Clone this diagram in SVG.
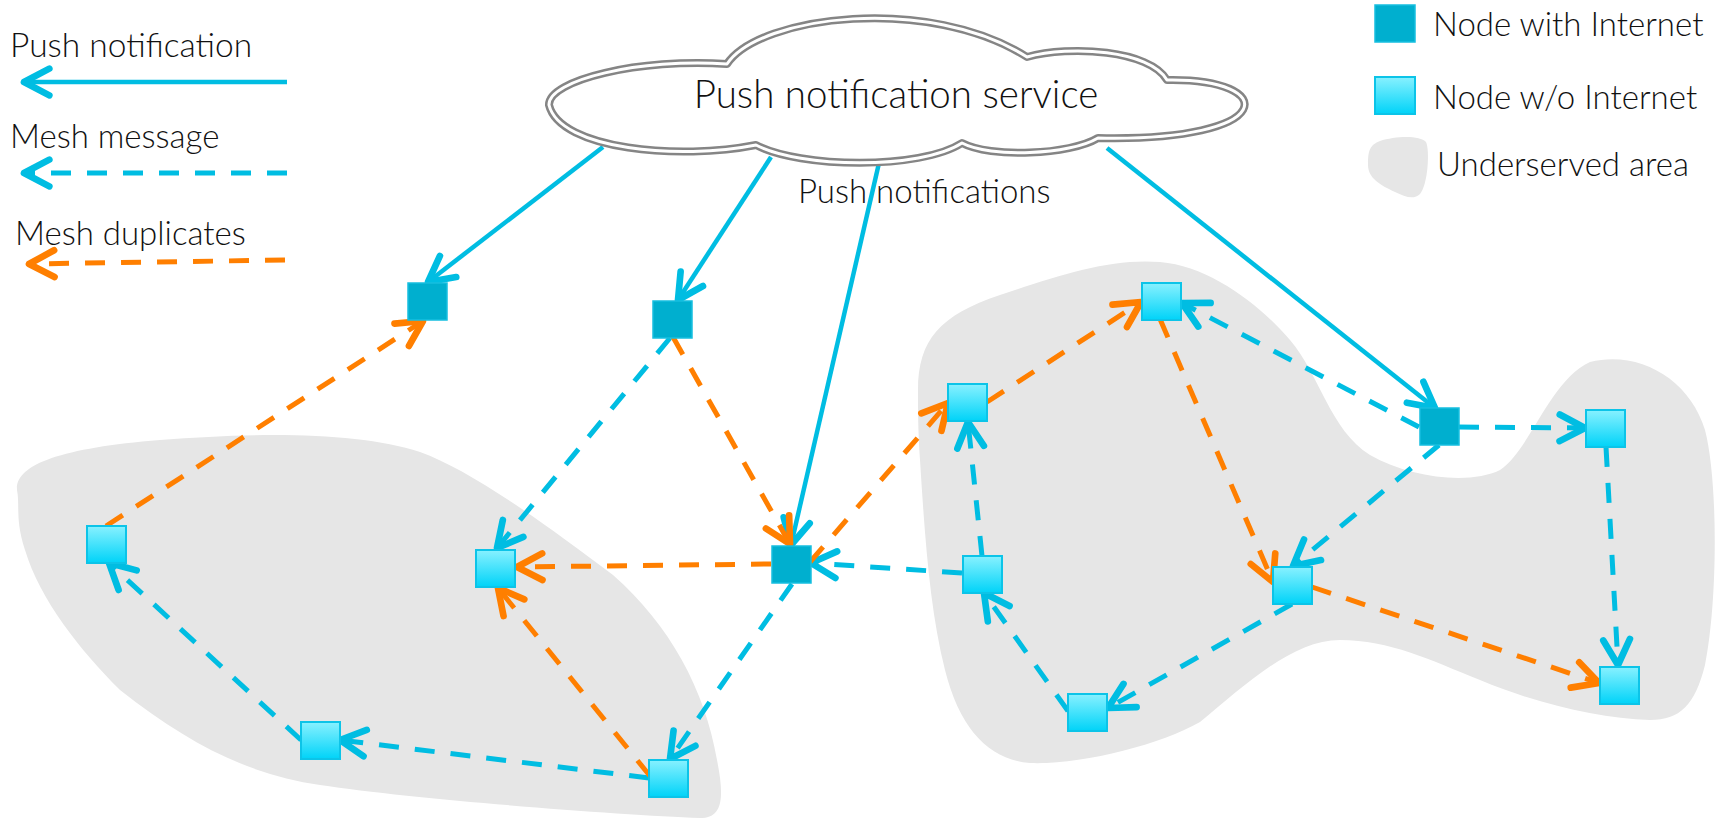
<svg xmlns="http://www.w3.org/2000/svg" width="1734" height="819" viewBox="0 0 1734 819">
<defs>
<style>
.t{font-family:Lato,"Liberation Sans",sans-serif;font-weight:300;fill:#111}
.area{fill:#e6e6e6}
.push{stroke:#00bde2;stroke-width:4.5;fill:none;marker-end:url(#ab)}
.mesh{stroke:#00bde2;stroke-width:5;fill:none;stroke-dasharray:20 16;marker-end:url(#ab)}
.dup{stroke:#ff7f00;stroke-width:5;fill:none;stroke-dasharray:20 16;marker-end:url(#ao)}
.dark{fill:#00afcf;stroke:#16bfe0;stroke-width:1.5}
.light{fill:url(#lg);stroke:#0cc4e8;stroke-width:2}
</style>
<linearGradient id="lg" x1="0" y1="0" x2="0" y2="1">
<stop offset="0" stop-color="#88f1ff"/>
<stop offset="1" stop-color="#00d3f8"/>
</linearGradient>
<marker id="ab" markerUnits="userSpaceOnUse" markerWidth="40" markerHeight="40" refX="0" refY="0" viewBox="-25 -15 30 30" orient="auto" overflow="visible">
<path d="M-19,-10 L0,0 L-19,10" fill="none" stroke="#00bde2" stroke-width="5" stroke-linecap="round" stroke-linejoin="round"/>
</marker>
<marker id="ao" markerUnits="userSpaceOnUse" markerWidth="40" markerHeight="40" refX="0" refY="0" viewBox="-25 -15 30 30" orient="auto" overflow="visible">
<path d="M-19,-10 L0,0 L-19,10" fill="none" stroke="#ff7f00" stroke-width="5" stroke-linecap="round" stroke-linejoin="round"/>
</marker>
</defs>
<rect width="1734" height="819" fill="#fff"/>

<g id="areas">
<path class="area" d="M17,490 C15,465 60,448 160,440 C260,432 360,432 420,452 C470,470 540,520 613,575 C670,625 705,690 717,760 C725,800 722,818 700,818 C620,815 420,800 320,785 C250,775 190,745 120,690 C80,650 40,600 25,550 C15,520 20,505 17,490 Z"/>
<path class="area" d="M918,390 C918,340 940,315 1000,295 C1060,275 1110,258 1160,262 C1210,266 1260,305 1290,340 C1320,375 1330,430 1370,455 C1410,478 1470,485 1500,470 C1530,450 1550,380 1590,362 C1640,350 1690,380 1705,430 C1718,480 1718,600 1705,665 C1695,705 1680,720 1650,720 C1600,718 1540,705 1480,680 C1430,660 1390,640 1340,640 C1290,640 1240,690 1200,722 C1160,745 1080,765 1030,763 C990,760 960,730 945,670 C930,610 925,540 920,460 C918,430 918,410 918,390 Z"/>
</g>

<g id="legend">
<text class="t" x="10" y="57" font-size="33.5">Push notification</text>
<path class="push" d="M287,82 L24,82"/>
<text class="t" x="10" y="148" font-size="33">Mesh message</text>
<path class="mesh" d="M287,173 L24,173"/>
<text class="t" x="15" y="245" font-size="33">Mesh duplicates</text>
<path class="dup" d="M285,260 L29,264"/>
<rect class="dark" x="1375" y="5" width="40" height="37"/>
<text class="t" x="1433" y="36" font-size="33">Node with Internet</text>
<rect class="light" x="1375" y="77" width="40" height="37"/>
<text class="t" x="1433" y="109" font-size="33">Node w/o Internet</text>
<path class="area" d="M1380,141 C1395,136 1420,135 1426,142 C1430,150 1428,185 1420,194 C1414,200 1405,197 1395,192 C1380,185 1368,178 1368,165 C1368,150 1370,145 1380,141 Z"/>
<text class="t" x="1437" y="176" font-size="33">Underserved area</text>
</g>

<g id="connectors">
<path class="push" d="M603,147 L428,282"/>
<path class="push" d="M771,157 L678,300"/>
<path class="push" d="M879,163 L791,545"/>
<path class="push" d="M1107,148 L1435,408"/>
<path class="mesh" d="M670,338 L497,548"/>
<path class="mesh" d="M792,584 L670,759"/>
<path class="mesh" d="M649,778 L340,740"/>
<path class="mesh" d="M301,740 L109,563"/>
<path class="mesh" d="M962,573 L811,563"/>
<path class="mesh" d="M982,556 L968,422"/>
<path class="mesh" d="M1068,711 L984,593"/>
<path class="mesh" d="M1292,604 L1108,708"/>
<path class="mesh" d="M1439,445 L1293,566"/>
<path class="mesh" d="M1419,427 L1182,303"/>
<path class="mesh" d="M1459,427 L1585,428"/>
<path class="mesh" d="M1606,447 L1618,665"/>
<path class="dup" d="M106,526 L423,321"/>
<path class="dup" d="M673,337 L790,544"/>
<path class="dup" d="M771,564 L517,567"/>
<path class="dup" d="M650,776 L498,588"/>
<path class="dup" d="M810,562 L948,403"/>
<path class="dup" d="M987,402 L1141,302"/>
<path class="dup" d="M1160,319 L1273,582"/>
<path class="dup" d="M1312,587 L1599,683"/>
</g>

<g id="cloud">
<path d="M549,105 C548,80 640,58 727,64 C760,15 930,-5 1027,57 C1070,45 1150,50 1167,80 C1280,78 1280,142 1098,138 C1070,155 990,158 962,143 C920,170 800,168 756,145 C680,160 560,150 549,105 Z" fill="#fff" stroke="#858585" stroke-width="8" stroke-linejoin="round"/>
<path d="M549,105 C548,80 640,58 727,64 C760,15 930,-5 1027,57 C1070,45 1150,50 1167,80 C1280,78 1280,142 1098,138 C1070,155 990,158 962,143 C920,170 800,168 756,145 C680,160 560,150 549,105 Z" fill="none" stroke="#fff" stroke-width="3" stroke-linejoin="round"/>
<text class="t" x="896" y="108" font-size="38.5" text-anchor="middle">Push notification service</text>
</g>
<text id="push-label" class="t" x="798" y="203" font-size="33">Push notifications</text>

<g id="n1"><rect class="dark" x="408" y="283" width="39" height="37"/></g>
<g id="n2"><rect class="dark" x="653" y="301" width="39" height="37"/></g>
<g id="n3"><rect class="dark" x="772" y="546" width="39" height="37"/></g>
<g id="n4"><rect class="dark" x="1420" y="408" width="39" height="37"/></g>
<g id="l1"><rect class="light" x="87" y="526" width="39" height="37"/></g>
<g id="l2"><rect class="light" x="476" y="550" width="39" height="37"/></g>
<g id="l3"><rect class="light" x="301" y="722" width="39" height="37"/></g>
<g id="l4"><rect class="light" x="649" y="760" width="39" height="37"/></g>
<g id="l5"><rect class="light" x="1142" y="283" width="39" height="37"/></g>
<g id="l6"><rect class="light" x="948" y="384" width="39" height="37"/></g>
<g id="l7"><rect class="light" x="963" y="556" width="39" height="37"/></g>
<g id="l8"><rect class="light" x="1273" y="567" width="39" height="37"/></g>
<g id="l9"><rect class="light" x="1068" y="694" width="39" height="37"/></g>
<g id="l10"><rect class="light" x="1586" y="410" width="39" height="37"/></g>
<g id="l11"><rect class="light" x="1600" y="667" width="39" height="37"/></g>
</svg>
